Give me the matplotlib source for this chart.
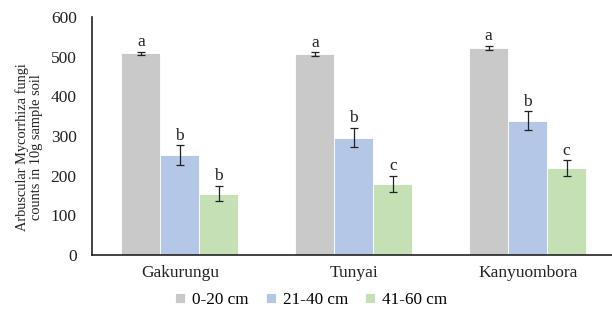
import matplotlib
matplotlib.use("Agg")
import matplotlib.pyplot as plt
import numpy as np

categories = ["Gakurungu", "Tunyai", "Kanyuombora"]
series_names = ["0-20 cm", "21-40 cm", "41-60 cm"]
values_0_20 = [508, 506, 522]
values_21_40 = [252, 296, 338]
values_41_60 = [155, 180, 219]
err_0_20 = [5, 5, 5]
err_21_40 = [25, 24, 24]
err_41_60 = [20, 20, 20]
letters_0_20 = ["a", "a", "a"]
letters_21_40 = ["b", "b", "b"]
letters_41_60 = ["b", "c", "c"]
yticks = [0, 100, 200, 300, 400, 500, 600]

colors = ["#C9C9C9", "#B4C7E7", "#C5E0B4"]

plt.rcParams['font.family'] = ['Liberation Serif', 'DejaVu Serif']

fig = plt.figure(figsize=(6.12, 3.2), dpi=100)
ax = fig.add_axes([92/612, 1-255/320, 1-92/612, (255-17)/320])

x = np.arange(len(categories))
w = 0.224
allv = [values_0_20, values_21_40, values_41_60]
alle = [err_0_20, err_21_40, err_41_60]
alll = [letters_0_20, letters_21_40, letters_41_60]
for i, (v, e, l) in enumerate(zip(allv, alle, alll)):
    xs = x + (i - 1) * w
    ax.bar(xs, v, w, color=colors[i], edgecolor="white", linewidth=0.6, label=series_names[i])
    ax.errorbar(xs, v, yerr=e, fmt="none", ecolor="#222222", elinewidth=0.9, capsize=3, capthick=0.9)
    for xi, vi, ei, li in zip(xs, v, e, l):
        ax.text(xi, vi + ei + 4, li, ha="center", va="bottom", fontsize=12.5, color="#222222")

ax.set_xlim(-0.505, 2.485)
ax.set_ylim(0, 600)
ax.set_yticks(yticks)
ax.set_xticks(x)
ax.set_xticklabels(categories)
for s in ["top", "right"]:
    ax.spines[s].set_visible(False)
for s in ["left", "bottom"]:
    ax.spines[s].set_color("#222222")
    ax.spines[s].set_linewidth(1.2)
ax.tick_params(axis="y", length=0, pad=11, labelsize=12.5, colors="#222222")
ax.tick_params(axis="x", length=0, pad=7, labelsize=12.5, colors="#222222")
ax.set_ylabel("Arbuscular Mycorrhiza fungi\ncounts in 10g sample soil", fontsize=10.4, color="#222222", linespacing=1.05)
ax.yaxis.set_label_coords((43 - 92) / 520, (255 - 131 - 16) / 238)

leg = fig.legend(loc="center", bbox_to_anchor=(311/612, 1-300/320), ncol=3, frameon=False,
                 fontsize=12.3, handlelength=0.6, handleheight=0.6, handletextpad=0.4, columnspacing=1.0)

fig.savefig("out.png", dpi=100)
